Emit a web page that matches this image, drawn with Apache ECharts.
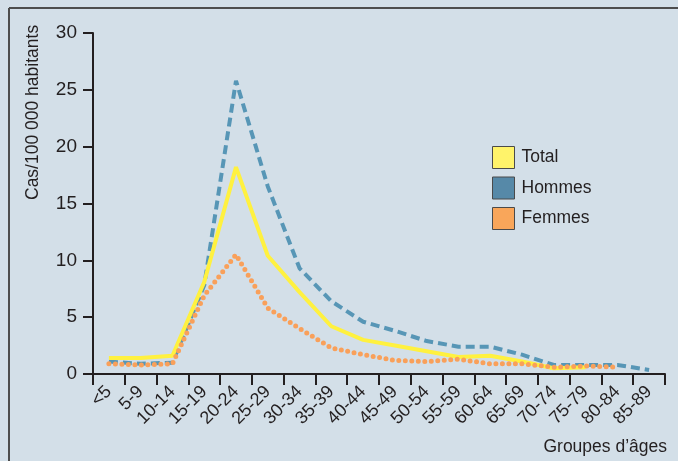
<!DOCTYPE html>
<html>
<head>
<meta charset="utf-8">
<script src="https://cdn.jsdelivr.net/npm/echarts@6/dist/echarts.min.js"></script>
<style>
  html, body { margin: 0; padding: 0; background: #d3dfe8; }
  #chart { width: 678px; height: 461px; }
</style>
</head>
<body>
<div id="chart"></div>
<script>
var ageGroups = ['<5', '5-9', '10-14', '15-19', '20-24', '25-29', '30-34', '35-39', '40-44',
  '45-49', '50-54', '55-59', '60-64', '65-69', '70-74', '75-79', '80-84', '85-89'];
var hommes = [1.1, 0.9, 1.0, 7.8, 25.8, 16.5, 9.3, 6.4, 4.6, 3.8, 2.9, 2.4, 2.4, 1.7, 0.8, 0.8, 0.8, 0.35];
var total = [1.4, 1.4, 1.6, 8.1, 18.2, 10.4, 7.2, 4.2, 3.0, 2.5, 2.0, 1.5, 1.6, 1.1, 0.5, 0.6, null, null];
var femmes = [0.9, 0.8, 0.9, 6.9, 10.5, 5.8, 4.0, 2.3, 1.7, 1.2, 1.1, 1.3, 0.9, 0.9, 0.6, 0.7, 0.6, null];
var yTicks = [0, 5, 10, 15, 20, 25, 30];

var font = '"Liberation Sans", Arial, sans-serif';
var ink = '#231f20';

var chart = echarts.init(document.getElementById('chart'));
var option = {
  backgroundColor: '#d3dfe8',
  animation: false,
  textStyle: { fontFamily: font },
  grid: { left: 93, right: 13, top: 33, bottom: 87 },
  legend: {
    orient: 'vertical',
    left: 492,
    top: 146,
    padding: 0,
    itemWidth: 22,
    itemHeight: 22,
    itemGap: 7.5,
    icon: 'rect',
    itemStyle: { borderColor: '#4a4a4a', borderWidth: 1 },
    textStyle: { fontFamily: font, fontSize: 17.5, color: ink, padding: [0, 0, 0, 2] },
    data: ['Total', 'Hommes', 'Femmes']
  },
  xAxis: {
    type: 'category',
    data: ageGroups,
    boundaryGap: true,
    axisLine: { lineStyle: { color: ink, width: 2 } },
    axisTick: { show: true, length: 11, interval: 0, lineStyle: { color: ink, width: 2 } },
    axisLabel: { interval: 0, rotate: 45, margin: 15, color: ink, fontSize: 18, fontFamily: font }
  },
  yAxis: {
    type: 'value',
    min: yTicks[0],
    max: yTicks[yTicks.length - 1],
    interval: 5,
    splitLine: { show: false },
    axisLine: { show: true, lineStyle: { color: ink, width: 2 } },
    axisTick: { show: true, length: 10, lineStyle: { color: ink, width: 2 } },
    axisLabel: { margin: 16, color: ink, fontSize: 19, fontFamily: font }
  },
  graphic: [
    { type: 'line', shape: { x1: 9, y1: 8, x2: 678, y2: 8 }, style: { stroke: '#4d4d4d', lineWidth: 2 } },
    { type: 'line', shape: { x1: 9, y1: 8, x2: 9, y2: 461 }, style: { stroke: '#4d4d4d', lineWidth: 2 } },
    {
      type: 'text', x: 24, y: 200, rotation: Math.PI / 2,
      style: { text: 'Cas/100 000 habitants', font: '17.5px ' + font, fill: ink, textAlign: 'left', textVerticalAlign: 'top' }
    },
    {
      type: 'text', right: 11, top: 438,
      style: { text: 'Groupes d\u2019âges', font: '17.5px ' + font, fill: ink }
    }
  ],
  series: [
    {
      name: 'Hommes', type: 'line', data: hommes, showSymbol: false, symbol: 'none',
      itemStyle: { color: '#5689a8' },
      lineStyle: { color: '#5796b6', width: 4, type: [9, 5] }
    },
    {
      name: 'Total', type: 'line', data: total, showSymbol: false, symbol: 'none',
      itemStyle: { color: '#fff36a' },
      lineStyle: { color: '#fff13f', width: 4 }
    },
    {
      name: 'Femmes', type: 'line', data: femmes, showSymbol: false, symbol: 'none',
      itemStyle: { color: '#f9a65a' },
      lineStyle: { color: '#f9a05a', width: 5, type: [0, 6.5], cap: 'round' }
    }
  ]
};
chart.setOption(option);
</script>
</body>
</html>
